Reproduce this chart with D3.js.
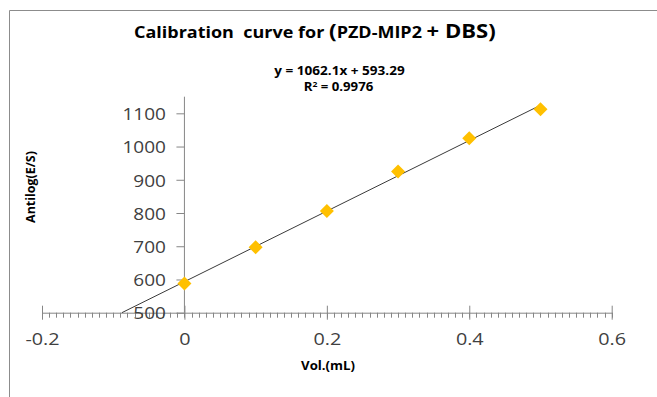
<!DOCTYPE html>
<html>
<head>
<meta charset="utf-8">
<script src="https://cdn.jsdelivr.net/npm/d3@7"></script>
<style>
  html, body { margin: 0; padding: 0; background: #fff; }
  svg { display: block; }
  text { white-space: pre; }
</style>
</head>
<body>
<svg id="chart" width="657" height="397"></svg>
<script>
// ---- data ----
const volumes = [0, 0.1, 0.2, 0.3, 0.4, 0.5];
const antilogValues = [588, 697, 806, 925, 1025, 1112];
const xTickValues = [-0.2, 0, 0.2, 0.4, 0.6];
const yTickValues = [500, 600, 700, 800, 900, 1000, 1100];
const trendSlope = 1062.1;
const trendIntercept = 593.29;
const titleParts = ["Calibration  curve for ", "(", "PZD-MIP2 ", "+ DBS)"];
const equationText = "y = 1062.1x + 593.29";
const rSquaredText = "0.9976";
const xAxisTitle = "Vol.(mL)";
const yAxisTitle = "Antilog(E/S)";

// ---- layout ----
const svg = d3.select("#chart");
const x = d3.scaleLinear().domain([-0.2, 0.6]).range([42, 611.7]);
const y = d3.scaleLinear().domain([500, 1150]).range([312.7, 96.7]);
const axisColor = "#868686";
const labelColor = "#404040";
const font = "'Open Sans', sans-serif";

// horizontally stretch a text element about its anchor x so that it is `target` px wide
function stretchTo(sel, anchorX, target) {
  const w = sel.node().getBBox().width;
  const s = target / w;
  sel.attr("transform", `translate(${anchorX},0) scale(${s},1) translate(${-anchorX},0)`);
  return s;
}

// chart frame
svg.append("path")
  .attr("d", "M9.5,400 L9.5,10.5 L660,10.5")
  .attr("fill", "none").attr("stroke", "#8c8c8c").attr("stroke-width", 1);

// title
const title = svg.append("text")
  .attr("x", 134).attr("y", 38)
  .attr("font-family", font)
  .attr("font-weight", "bold").attr("fill", "#000");
title.append("tspan").attr("font-size", 15.5).text(titleParts[0]);
title.append("tspan").attr("font-size", 19.5).text(titleParts[1]);
title.append("tspan").attr("font-size", 15.5).text(titleParts[2]);
title.append("tspan").attr("font-size", 19).text(titleParts[3]);
stretchTo(title, 134, 362);

// x axis (minor ticks below)
const minorTicks = d3.range(-0.2, 0.6001, 0.01);
svg.append("g").selectAll("line.minor").data(minorTicks).join("line")
  .attr("x1", d => Math.round(x(d)) + 0.5).attr("x2", d => Math.round(x(d)) + 0.5)
  .attr("y1", y(500)).attr("y2", y(500) + 5)
  .attr("stroke", axisColor).attr("stroke-width", 1);

const xAxis = d3.axisBottom(x).tickValues(xTickValues).tickSize(0)
  .tickFormat(d => d === 0 ? "0" : d3.format(".1f")(d).replace("\u2212", "-"));
const gx = svg.append("g").attr("transform", `translate(0,${y(500)})`).call(xAxis);
gx.select(".domain").attr("stroke", axisColor);
gx.selectAll(".tick line").remove();
gx.selectAll(".tick").append("line")
  .attr("y1", -7).attr("y2", 7).attr("stroke", axisColor);
const xLabels = gx.selectAll(".tick text")
  .attr("dy", 0).attr("y", 32.5)
  .attr("font-family", font).attr("font-size", 16.5)
  .attr("fill", labelColor);
{
  const sample = xLabels.filter(d => d === 0.4);
  const s = 28.5 / sample.node().getBBox().width;
  xLabels.attr("transform", `scale(${s},1)`).attr("x", 0);
}

// y axis at x = 0
const yAxis = d3.axisLeft(y).tickValues(yTickValues).tickSize(8).tickPadding(11)
  .tickFormat(d3.format("d"));
const gy = svg.append("g").attr("transform", `translate(${x(0)},0)`).call(yAxis);
gy.select(".domain").attr("stroke", axisColor).attr("d", `M0,${y(1150)}V${y(500)}`);
gy.selectAll(".tick line").attr("stroke", axisColor);
const yLabels = gy.selectAll(".tick text")
  .attr("font-family", font).attr("font-size", 16.5).attr("dy", "0.38em")
  .attr("fill", labelColor);
{
  const sample = yLabels.filter(d => d === 1000);
  const s = 43.5 / sample.node().getBBox().width;
  yLabels.attr("x", 0).attr("transform", `translate(-18.5,0) scale(${s},1)`);
}

// trendline
const xStart = (500 - trendIntercept) / trendSlope;
svg.append("line")
  .attr("x1", x(xStart)).attr("y1", y(500))
  .attr("x2", x(0.5)).attr("y2", y(trendSlope * 0.5 + trendIntercept))
  .attr("stroke", "#3a3a3a").attr("stroke-width", 1);

// markers
svg.append("g").selectAll("path").data(volumes).join("path")
  .attr("transform", (d, i) => `translate(${x(d)},${y(antilogValues[i])})`)
  .attr("d", "M0,-7 L7,0 L0,7 L-7,0 Z")
  .attr("fill", "#FFC000");

// equation labels
const eq = svg.append("text").attr("x", 339.5).attr("y", 75)
  .attr("text-anchor", "middle")
  .attr("font-family", font).attr("font-weight", "bold")
  .attr("font-size", 11.5).attr("fill", "#000")
  .text(equationText);
stretchTo(eq, 339.5, 131);
const r2 = svg.append("text").attr("x", 338.5).attr("y", 91.5)
  .attr("text-anchor", "middle")
  .attr("font-family", font).attr("font-weight", "bold")
  .attr("font-size", 11.5).attr("fill", "#000");
r2.append("tspan").text("R");
r2.append("tspan").attr("font-size", 7.5).attr("dy", -4.5).text("2");
r2.append("tspan").attr("dy", 4.5).text(" = " + rSquaredText);
stretchTo(r2, 338.5, 70);

// axis titles
const xt = svg.append("text").attr("x", 328).attr("y", 370)
  .attr("text-anchor", "middle")
  .attr("font-family", font).attr("font-weight", "bold")
  .attr("font-size", 11.5).attr("fill", "#000")
  .text(xAxisTitle);
stretchTo(xt, 328, 54);
const ytG = svg.append("g").attr("transform", "translate(35,187) rotate(-90)");
const yt = ytG.append("text").attr("x", 0).attr("y", 0)
  .attr("text-anchor", "middle")
  .attr("font-family", font).attr("font-weight", "bold")
  .attr("font-size", 11.5).attr("fill", "#000")
  .text(yAxisTitle);
stretchTo(yt, 0, 72);
</script>
</body>
</html>
